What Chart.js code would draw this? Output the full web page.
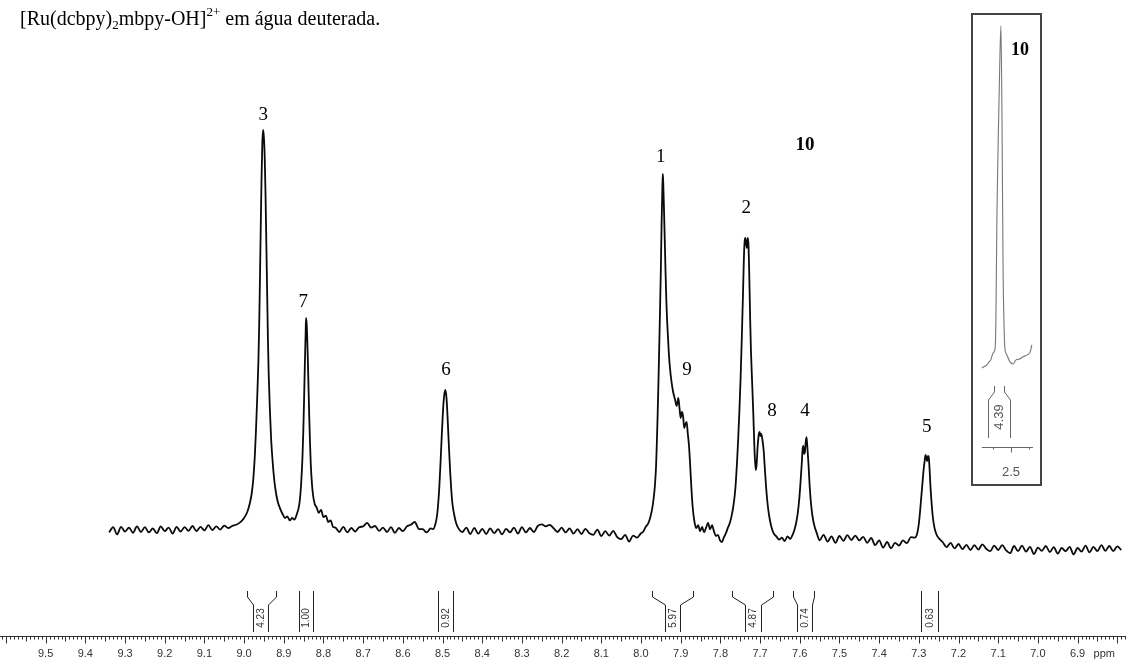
<!DOCTYPE html>
<html>
<head>
<meta charset="utf-8">
<script src="https://cdn.jsdelivr.net/npm/chart.js@4.4.1/dist/chart.umd.min.js"></script>
<style>
html, body { margin: 0; padding: 0; background: #fff; }
#wrap { position: relative; width: 1126px; height: 664px; overflow: hidden; }
#titulo { position: absolute; left: 20px; top: 8px; font-family: "Liberation Serif", "Times New Roman", serif;
          font-size: 20px; line-height: 20px; color: #000; white-space: nowrap; }
#titulo sub, #titulo sup { font-size: 13px; line-height: 0; }
#titulo sub { vertical-align: -4px; }
#titulo sup { vertical-align: 9px; }
#grafico { position: absolute; left: 0; top: 0; }
#caixa { position: absolute; left: 971px; top: 13px; width: 67px; height: 469px; border: 2px solid #444; }
#inset { position: absolute; left: 0; top: 0; }
</style>
</head>
<body>
<div id="wrap">
  <canvas id="grafico" width="1126" height="664"></canvas>
  <div id="titulo">[Ru(dcbpy)<sub>2</sub>mbpy-OH]<sup>2+</sup> em água deuterada.</div>
  <div id="caixa"><canvas id="inset" width="67" height="469"></canvas></div>
</div>
<script>
// espectro principal: deslocamento (ppm) e intensidade relativa (pico 3 = 100)
const ppm = [
  // linha de base 9.34-9.04
  9.34, 9.33, 9.32, 9.31, 9.30, 9.29, 9.28, 9.27, 9.26, 9.25, 9.24, 9.23, 9.22, 9.21, 9.20, 9.19,
  9.18, 9.17, 9.16, 9.15, 9.14, 9.13, 9.12, 9.11, 9.10, 9.09, 9.08, 9.07, 9.06, 9.05, 9.04,
  // pico 3
  9.030, 9.020, 9.010, 9.000, 8.992, 8.986, 8.981, 8.977, 8.973, 8.970, 8.967, 8.964, 8.962, 8.960,
  8.958, 8.956, 8.954, 8.952, 8.950, 8.948, 8.946, 8.944, 8.942, 8.940, 8.938, 8.935, 8.932, 8.928,
  8.924, 8.920, 8.915, 8.909, 8.903, 8.897, 8.891, 8.885, 8.879, 8.873, 8.867,
  // pico 7
  8.862, 8.859, 8.856, 8.853, 8.851, 8.849, 8.847, 8.845, 8.844, 8.842, 8.840, 8.838, 8.836, 8.834,
  8.832, 8.829, 8.826, 8.822, 8.817, 8.812, 8.806, 8.800, 8.794, 8.788, 8.782, 8.776,
  // linha de base 8.77-8.53
  8.77, 8.76, 8.75, 8.74, 8.73, 8.72, 8.71, 8.70, 8.69, 8.68, 8.67, 8.66, 8.65, 8.64, 8.63, 8.62,
  8.61, 8.60, 8.59, 8.58, 8.57, 8.56, 8.55, 8.54, 8.53,
  // pico 6
  8.524, 8.518, 8.514, 8.511, 8.508, 8.505, 8.502, 8.499, 8.496, 8.493, 8.490, 8.487, 8.484, 8.481,
  8.478, 8.475, 8.471, 8.466, 8.461,
  // linha de base 8.45-8.00
  8.45, 8.44, 8.43, 8.42, 8.41, 8.40, 8.39, 8.38, 8.37, 8.36, 8.35, 8.34, 8.33, 8.32, 8.31, 8.30,
  8.29, 8.28, 8.27, 8.26, 8.25, 8.24, 8.23, 8.22, 8.21, 8.20, 8.19, 8.18, 8.17, 8.16, 8.15, 8.14,
  8.13, 8.12, 8.11, 8.10, 8.09, 8.08, 8.07, 8.06, 8.05, 8.04, 8.03, 8.02, 8.01, 8.00,
  // picos 1 e 9
  7.995, 7.988, 7.982, 7.977, 7.972, 7.968, 7.965, 7.962, 7.960, 7.958, 7.956, 7.954, 7.952, 7.950,
  7.948, 7.946, 7.945, 7.944, 7.942, 7.940, 7.938, 7.936, 7.933, 7.930, 7.927, 7.923, 7.919, 7.914,
  7.910, 7.906, 7.903, 7.900, 7.897, 7.894, 7.891, 7.888, 7.885, 7.882, 7.879, 7.876, 7.873, 7.870,
  7.866, 7.861,
  7.856, 7.851, 7.846, 7.841, 7.836, 7.831, 7.826, 7.821, 7.816, 7.811, 7.806, 7.801, 7.796, 7.791,
  7.786, 7.781, 7.776, 7.772,
  // picos 2 e 8
  7.768, 7.764, 7.761, 7.758, 7.755, 7.752, 7.749, 7.746, 7.743, 7.741, 7.739, 7.737, 7.735, 7.733,
  7.731, 7.729, 7.727, 7.725, 7.723, 7.720, 7.717, 7.714, 7.711, 7.709, 7.706, 7.703, 7.701, 7.699,
  7.697, 7.694, 7.691, 7.688, 7.685, 7.681, 7.677, 7.672, 7.666, 7.659, 7.652, 7.645, 7.638, 7.631,
  7.624, 7.618, 7.613,
  // pico 4
  7.609, 7.605, 7.601, 7.598, 7.595, 7.593, 7.591, 7.589, 7.587, 7.585, 7.583, 7.581, 7.578, 7.575,
  7.572, 7.568, 7.563, 7.557,
  // linha de base 7.55-7.31
  7.55, 7.54, 7.53, 7.52, 7.51, 7.50, 7.49, 7.48, 7.47, 7.46, 7.45, 7.44, 7.43, 7.42, 7.41, 7.40,
  7.39, 7.38, 7.37, 7.36, 7.35, 7.34, 7.33, 7.32, 7.31,
  // pico 5
  7.304, 7.300, 7.297, 7.294, 7.291, 7.288, 7.285, 7.283, 7.281, 7.279, 7.277, 7.275, 7.273, 7.271,
  7.268, 7.265, 7.261, 7.256, 7.250,
  // linha de base 7.24-6.79
  7.24, 7.23, 7.22, 7.21, 7.20, 7.19, 7.18, 7.17, 7.16, 7.15, 7.14, 7.13, 7.12, 7.11, 7.10, 7.09,
  7.08, 7.07, 7.06, 7.05, 7.04, 7.03, 7.02, 7.01, 7.00, 6.99, 6.98, 6.97, 6.96, 6.95, 6.94, 6.93,
  6.92, 6.91, 6.90, 6.89, 6.88, 6.87, 6.86, 6.85, 6.84, 6.83, 6.82, 6.81, 6.80, 6.79
];
const intensidade = [
  -0.6, 0.7, -1.1, 0.8, -0.4, 0.6, -0.7, 0.9, -0.5, 0.7, -0.6, 0.4, -0.8, 0.9, -0.3, 0.6,
  -0.9, 0.8, -0.4, 0.7, -0.2, 1.0, -0.3, 0.8, -0.1, 1.2, 0.0, 0.9, 0.1, 1.1, 0.5,
  1.0, 1.3, 1.9, 3.0, 4.5, 6.5, 9, 12.5, 18.5, 25, 33, 42, 51, 63,
  76, 88, 97, 100, 98, 93, 84, 72, 60, 48, 39, 30, 23, 17,
  12.5, 9.5, 7, 5.3, 4.0, 3.0, 3.4, 2.4, 3.0, 2.6, 4.0,
  5.8, 8, 12, 18, 24, 32, 41, 49, 53, 51, 45, 37, 29, 22,
  16.5, 11.5, 8.5, 6.5, 5.6, 4.3, 5.0, 3.2, 3.6, 2.0, 2.4, 0.8,
  0.6, -0.5, 0.8, -0.6, 0.5, -0.4, 0.7, 0.9, 1.8, 0.6, 1.0, -0.2, 0.6, -0.5, 0.7, -0.7,
  0.5, -0.3, 0.9, 1.3, 2.0, 0.3, 0.2, -0.6, 0.4,
  0.2, 1.5, 3.5, 6.5, 11, 17, 23.5, 29.5, 33.5, 35, 33, 27.5, 21, 15,
  10, 6.5, 4, 1.8, 0.6,
  -0.5, 0.6, -1.0, 0.5, -0.9, 0.3, -1.0, 0.4, -0.8, 0.2, -1.1, 0.3, -0.6, 0.6, -0.9, 0.7,
  -0.6, 0.5, -0.5, 1.0, 1.4, 0.9, 1.3, 0.4, -0.5, 0.6, -0.6, 0.4, -0.9, 0.2, -1.0, 0.3,
  -0.8, -1.2, 0.1, -1.5, -0.3, -1.4, -0.2, -1.8, -2.3, -1.2, -2.9, -1.4, -1.9, -0.8,
  -0.5, 0.8, 1.6, 3.0, 5.2, 8, 11, 16, 22, 29, 37, 46, 55, 65,
  77, 86, 89, 87, 80, 72, 64, 57, 50, 44.5, 40.5, 37, 34.5, 32.5,
  31, 33, 30.5, 28, 29.5, 28.5, 25.5, 26.5, 27, 24, 21, 16, 10.5, 6,
  2.5, 0.5,
  1.2, -0.3, 0.8, -0.6, 0.6, 1.8, 0.2, 1.2, -0.4, -1.5, -1.2, -2.6, -3.0, -1.8,
  -0.8, 0.6, 1.8, 3.4,
  5.5, 8.5, 12, 17, 23, 30, 38, 48, 59, 67, 72, 73, 71.5, 70.5,
  73, 71, 63, 53, 45, 37, 29, 20, 15, 16, 21, 24, 24.5, 23.5,
  24, 22.5, 20, 15.5, 11, 6.5, 3.5, 1.0, -0.8, -1.6, -2.4, -1.9, -2.8, -1.6,
  -2.2, -1.2, 0.2,
  1.8, 4.2, 8, 12, 16.5, 20, 21, 19, 19.5, 22, 23.2, 21, 16.5, 11,
  7, 3.5, 1.0, -0.8,
  -2.6, -1.2, -2.9, -1.6, -3.2, -1.5, -2.7, -1.3, -2.5, -1.4, -2.6, -1.7, -3.2, -2.0, -3.8, -2.6,
  -4.4, -3.0, -4.6, -3.2, -3.9, -2.6, -3.3, -1.8, -1.9,
  -0.8, 1.5, 4.5, 8, 11.5, 15, 17.5, 18.8, 18, 17.2, 18.5, 18.2, 15.5, 11.5,
  7, 3.5, 0.8, -1.0, -2.0,
  -3.0, -4.3, -3.2, -4.6, -3.5, -4.8, -3.7, -5.0, -3.8, -4.9, -3.6, -4.7, -5.3, -3.9, -5.0, -3.8,
  -5.1, -5.8, -4.0, -5.3, -3.9, -5.4, -4.2, -6.0, -4.4, -5.2, -4.0, -5.5, -4.3, -5.9, -4.5, -5.3,
  -4.2, -6.1, -4.5, -5.4, -3.9, -5.6, -4.2, -5.3, -3.8, -5.2, -4.0, -5.3, -4.1, -5.0
];

// atribuição dos picos
const rotulosPicos = ["3", "7", "6", "1", "9", "2", "8", "4", "5", "10"];
const rotulosPpm   = [8.952, 8.851, 8.491, 7.950, 7.884, 7.735, 7.670, 7.587, 7.280, 7.587];
const rotulosNivel = [103.7, 57, 40, 93.3, 40, 80.5, 29.7, 29.7, 25.7, 96.2];

// integrais
const integralValor  = ["4.23", "1.00", "0.92", "5.97", "4.87", "0.74", "0.63"];
const integralExtIni = [8.992, 8.861, 8.511, 7.972, 7.771, 7.617, 7.295];
const integralExtFim = [8.919, 8.826, 8.474, 7.869, 7.668, 7.564, 7.252];
const integralIntIni = [8.977, 8.861, 8.511, 7.940, 7.738, 7.607, 7.295];
const integralIntFim = [8.940, 8.826, 8.474, 7.902, 7.698, 7.569, 7.252];

// eixo
const rotulosEixo = [9.5, 9.4, 9.3, 9.2, 9.1, 9.0, 8.9, 8.8, 8.7, 8.6, 8.5, 8.4, 8.3, 8.2, 8.1,
                     8.0, 7.9, 7.8, 7.7, 7.6, 7.5, 7.4, 7.3, 7.2, 7.1, 7.0, 6.9];

// detalhe: pico 10 (metila)
const insetPpm = [2.581, 2.572, 2.567, 2.561, 2.556, 2.550, 2.544, 2.542, 2.539, 2.536, 2.531,
                  2.528, 2.525, 2.522, 2.519, 2.517, 2.511, 2.503, 2.494, 2.486, 2.475, 2.467,
                  2.456, 2.447, 2.442];
const insetIntensidade = [-0.9, -0.3, 0, 0.9, 1.5, 3.5, 5, 13.3, 44.8, 63.4, 90,
                          100, 72.3, 28, 10.3, 5, 2.9, 0.9, 0.3, 1.5, 1.8, 2.4,
                          2.9, 3.8, 5.9];
const insetIntegral = { valor: "4.39", extIni: 2.547, extFim: 2.519, intIni: 2.564, intFim: 2.503 };
const insetEixo = [2.5];

const fonteSans = '"Liberation Sans", Arial, sans-serif';
const fonteSerif = '"Liberation Serif", "Times New Roman", serif';

function colchete(ctx, xTopo, xBase, yTopo, yBase) {
    ctx.beginPath();
    ctx.moveTo(xTopo, yTopo);
    ctx.lineTo(xTopo, yTopo + 6);
    ctx.lineTo(xBase, yTopo + 14);
    ctx.lineTo(xBase, yBase);
    ctx.stroke();
}

function textoVertical(ctx, texto, x, y) {
    ctx.save();
    ctx.translate(x, y);
    ctx.rotate(-Math.PI / 2);
    ctx.textAlign = "center";
    ctx.textBaseline = "middle";
    ctx.fillText(texto, 0, 0);
    ctx.restore();
}

const reguaPlugin = {
    id: "regua",
    afterDraw(chart) {
        const { ctx, chartArea, scales: { x } } = chart;
        const y0 = chartArea.bottom + 0.5;
        ctx.save();
        ctx.strokeStyle = "#333";
        ctx.lineWidth = 1;
        ctx.beginPath();
        ctx.moveTo(0, y0);
        ctx.lineTo(chart.width, y0);
        for (let k = 678; k <= 961; k++) {
            const px = Math.round(x.getPixelForValue(k / 100)) + 0.5;
            const len = k % 10 === 0 ? 7 : (k % 5 === 0 ? 5 : 3);
            ctx.moveTo(px, y0);
            ctx.lineTo(px, y0 + len);
        }
        ctx.stroke();
        ctx.fillStyle = "#333";
        ctx.font = "11px " + fonteSans;
        ctx.textAlign = "center";
        ctx.textBaseline = "middle";
        rotulosEixo.forEach(v => ctx.fillText(v.toFixed(1), x.getPixelForValue(v), y0 + 17));
        ctx.textAlign = "left";
        ctx.fillText("ppm", x.getPixelForValue(6.9) + 16, y0 + 17);
        ctx.restore();
    }
};

const integraisPlugin = {
    id: "integrais",
    afterDraw(chart) {
        const { ctx, chartArea, scales: { x } } = chart;
        const yBase = chartArea.bottom - 4;
        const yTopo = yBase - 41;
        ctx.save();
        ctx.strokeStyle = "#222";
        ctx.lineWidth = 1;
        integralValor.forEach((val, i) => {
            const a = Math.round(x.getPixelForValue(integralExtIni[i])) + 0.5;
            const b = Math.round(x.getPixelForValue(integralExtFim[i])) + 0.5;
            const c = Math.round(x.getPixelForValue(integralIntIni[i])) + 0.5;
            const d = Math.round(x.getPixelForValue(integralIntFim[i])) + 0.5;
            colchete(ctx, a, c, yTopo, yBase);
            colchete(ctx, b, d, yTopo, yBase);
            ctx.fillStyle = "#333";
            ctx.font = "10px " + fonteSans;
            textoVertical(ctx, val, (c + d) / 2, yBase - 14);
        });
        ctx.restore();
    }
};

const rotulosPlugin = {
    id: "rotulos",
    afterDraw(chart) {
        const { ctx, scales: { x, y } } = chart;
        ctx.save();
        ctx.fillStyle = "#000";
        ctx.textAlign = "center";
        ctx.textBaseline = "middle";
        rotulosPicos.forEach((r, i) => {
            ctx.font = (r === "10" ? "bold " : "") + "19px " + fonteSerif;
            ctx.fillText(r, x.getPixelForValue(rotulosPpm[i]), y.getPixelForValue(rotulosNivel[i]));
        });
        ctx.restore();
    }
};

new Chart(document.getElementById("grafico").getContext("2d"), {
    type: "line",
    data: {
        datasets: [{
            data: ppm.map((p, i) => ({ x: p, y: intensidade[i] })),
            borderColor: "#0a0a0a",
            borderWidth: 1.8,
            pointRadius: 0,
            cubicInterpolationMode: "monotone",
            fill: false
        }]
    },
    options: {
        responsive: false,
        animation: false,
        layout: { padding: { left: 0, right: 0, top: 0, bottom: 28 } },
        plugins: { legend: { display: false }, tooltip: { enabled: false } },
        scales: {
            x: { type: "linear", reverse: true, min: 6.778, max: 9.615, display: false },
            y: { min: -26.5, max: 132.5, display: false }
        }
    },
    plugins: [reguaPlugin, integraisPlugin, rotulosPlugin]
});

// gráfico de detalhe (pico 10)
const insetPlugin = {
    id: "insetExtras",
    afterDraw(chart) {
        const { ctx, scales: { x, y } } = chart;
        ctx.save();
        // régua
        const yR = Math.round(y.getPixelForValue(-24.2)) + 0.5;
        ctx.strokeStyle = "#666";
        ctx.lineWidth = 1;
        ctx.beginPath();
        ctx.moveTo(x.getPixelForValue(2.581), yR);
        ctx.lineTo(x.getPixelForValue(2.439), yR);
        [2.55, 2.5, 2.45].forEach(v => {
            const px = Math.round(x.getPixelForValue(v)) + 0.5;
            ctx.moveTo(px, yR);
            ctx.lineTo(px, yR + (v === 2.5 ? 5 : 2));
        });
        ctx.stroke();
        ctx.fillStyle = "#555";
        ctx.font = "13px " + fonteSans;
        ctx.textAlign = "center";
        ctx.textBaseline = "middle";
        insetEixo.forEach(v => ctx.fillText(v.toFixed(1), x.getPixelForValue(v), yR + 25));
        // integral (colchete invertido)
        const yTopo = Math.round(y.getPixelForValue(-6.2));
        const yBase = yTopo + 52;
        const a = Math.round(x.getPixelForValue(insetIntegral.extIni)) + 0.5;
        const b = Math.round(x.getPixelForValue(insetIntegral.extFim)) + 0.5;
        const c = Math.round(x.getPixelForValue(insetIntegral.intIni)) + 0.5;
        const d = Math.round(x.getPixelForValue(insetIntegral.intFim)) + 0.5;
        colchete(ctx, a, c, yTopo, yBase);
        colchete(ctx, b, d, yTopo, yBase);
        ctx.font = "13px " + fonteSans;
        textoVertical(ctx, insetIntegral.valor, (c + d) / 2, yTopo + 31);
        // rótulo 10
        ctx.fillStyle = "#000";
        ctx.font = "bold 18px " + fonteSerif;
        ctx.fillText("10", x.getPixelForValue(2.475), y.getPixelForValue(92.9));
        ctx.restore();
    }
};

new Chart(document.getElementById("inset").getContext("2d"), {
    type: "line",
    data: {
        datasets: [{
            data: insetPpm.map((p, i) => ({ x: p, y: insetIntensidade[i] })),
            borderColor: "#777",
            borderWidth: 1.1,
            pointRadius: 0,
            cubicInterpolationMode: "monotone",
            fill: false
        }]
    },
    options: {
        responsive: false,
        animation: false,
        layout: { padding: 0 },
        plugins: { legend: { display: false }, tooltip: { enabled: false } },
        scales: {
            x: { type: "linear", reverse: true, min: 2.4194, max: 2.6056, display: false },
            y: { min: -35.1, max: 103.2, display: false }
        }
    },
    plugins: [insetPlugin]
});
</script>
</body>
</html>
